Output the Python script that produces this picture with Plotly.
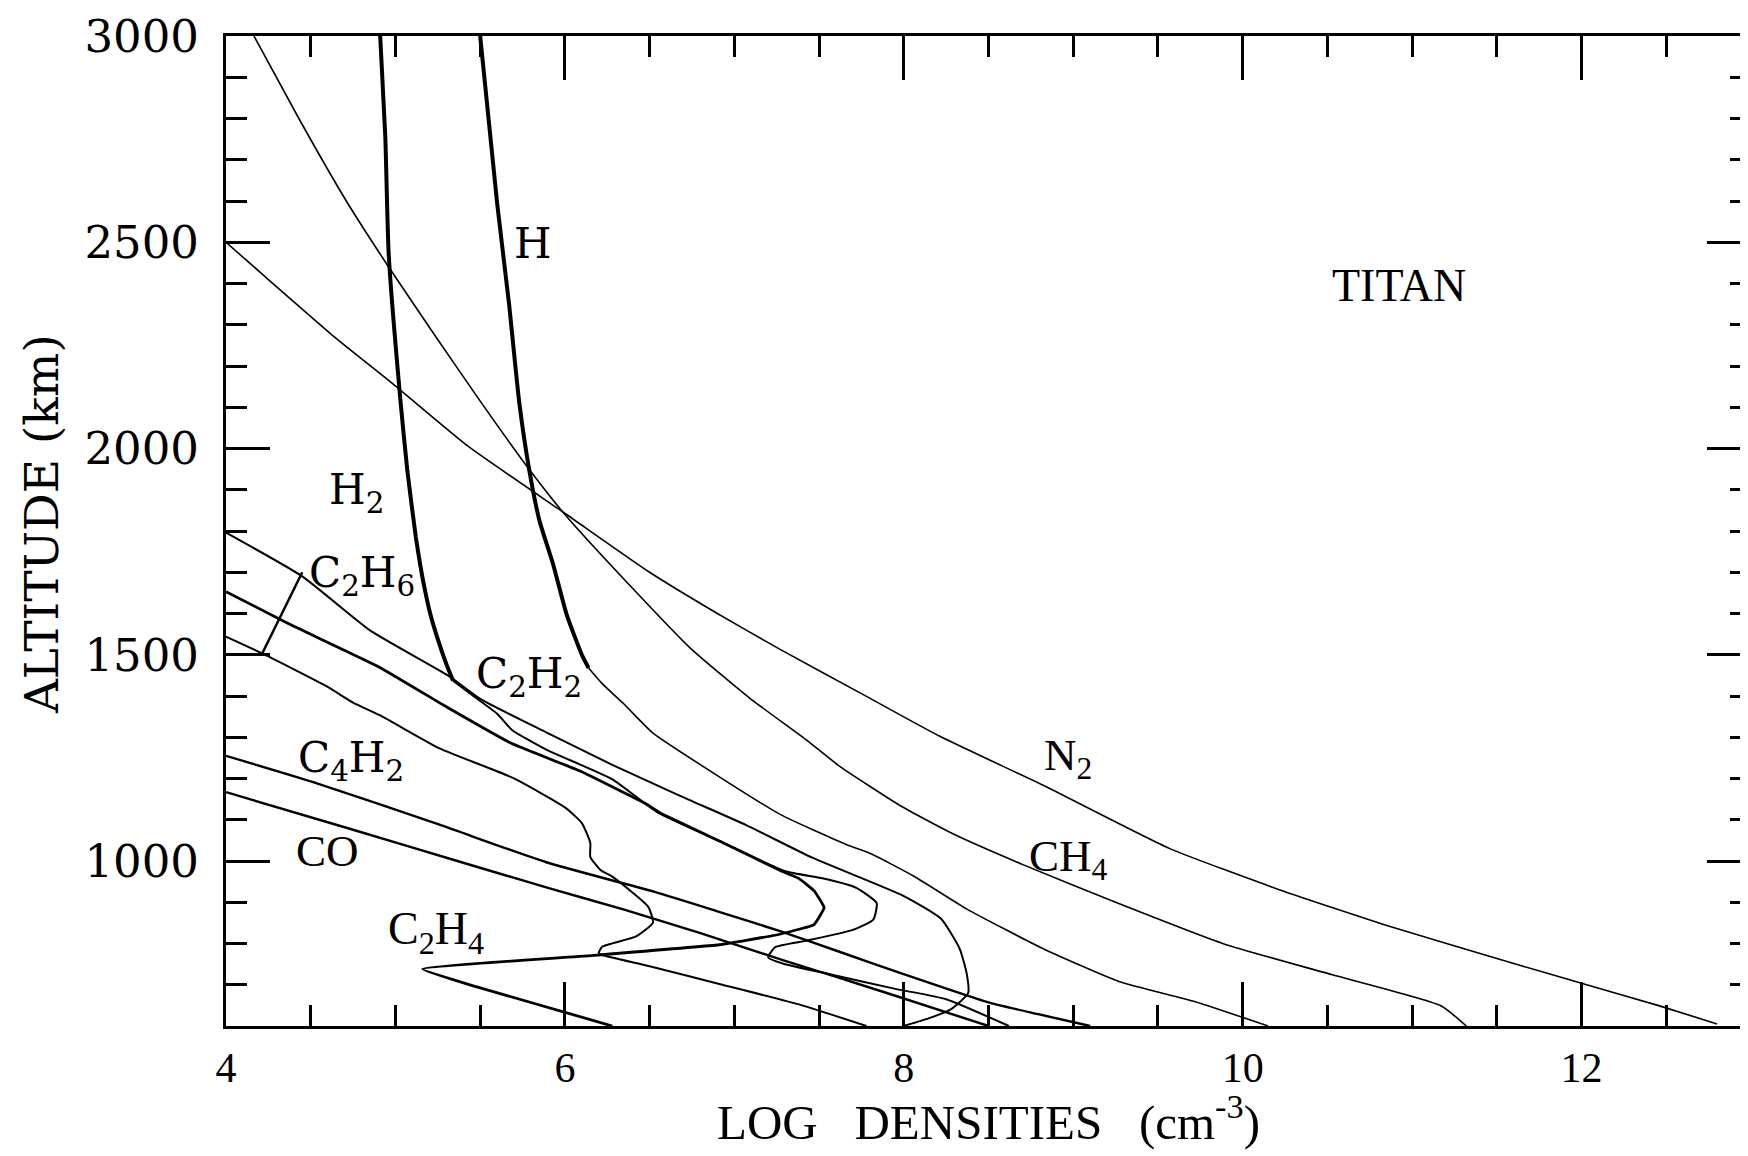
import plotly.graph_objects as go

# ---- data: log10 density (cm^-3) vs altitude (km) ----
N2_alt = [605, 650, 700, 760, 840, 930, 1030, 1180, 1303, 1399, 1513, 1600, 1700, 1840, 2005, 2155, 2267, 2419, 2500]
N2_x   = [12.8, 12.45, 12.03, 11.53, 10.88, 10.22, 9.57, 8.84, 8.21, 7.78, 7.27, 6.90, 6.50, 6.01, 5.43, 4.99, 4.65, 4.224, 4.0]

CH4_alt = [600, 649, 724, 799, 900, 990, 1066, 1134, 1230, 1292, 1395, 1516, 1652, 1840, 1960, 2121, 2285, 2440, 2600, 2800, 3000]
CH4_x   = [11.32, 11.17, 10.53, 9.89, 9.25, 8.71, 8.29, 7.98, 7.62, 7.43, 7.09, 6.74, 6.42, 6.0, 5.77, 5.49, 5.215, 4.96, 4.71, 4.43, 4.165]

H_top_alt = [1468, 1500, 1598, 1720, 1825, 1947, 2114, 2352, 2595, 3000]
H_top_x   = [6.14, 6.10, 6.01, 5.93, 5.85, 5.79, 5.73, 5.67, 5.60, 5.50]
H_low_alt = [600, 659, 708, 788, 884, 963, 1017, 1040, 1113, 1215, 1310, 1380, 1430, 1468]
H_low_x   = [10.15, 9.72, 9.27, 8.82, 8.37, 8.06, 7.81, 7.66, 7.27, 6.87, 6.52, 6.35, 6.22, 6.14]

H2_top_alt = [1437, 1478, 1544, 1600, 1665, 1721, 1786, 1947, 2114, 2473, 2757, 3000]
H2_top_x   = [5.34, 5.30, 5.245, 5.205, 5.17, 5.145, 5.12, 5.07, 5.03, 4.96, 4.94, 4.91]
H2_low_alt = [600, 665, 690, 725, 751, 766, 791, 807, 833, 858, 898, 935, 958, 975, 1045, 1117, 1198, 1270, 1317, 1357, 1412, 1437]
H2_low_x   = [8.62, 8.25, 7.95, 7.57, 7.29, 7.20, 7.24, 7.43, 7.70, 7.82, 7.84, 7.72, 7.52, 7.30, 6.93, 6.55, 6.28, 5.89, 5.69, 5.60, 5.42, 5.34]

C2H2_alt = [600, 619, 641, 680, 730, 787, 860, 915, 1008, 1087, 1158, 1233, 1312, 1393, 1447, 1559, 1690, 1796]
C2H2_x   = [8.0, 8.15, 8.28, 8.38, 8.37, 8.33, 8.22, 8.0, 7.46, 7.07, 6.68, 6.28, 5.89, 5.50, 5.32, 4.85, 4.45, 4.0]

C2H6_alt = [600, 650, 699, 745, 772, 777, 792, 817, 851, 890, 962, 978, 1010, 1044, 1092, 1130, 1202, 1273, 1353, 1384, 1422, 1502, 1544]
C2H6_x   = [7.78, 7.40, 6.94, 6.50, 6.22, 6.20, 6.22, 6.42, 6.52, 6.49, 6.28, 6.21, 6.15, 6.15, 6.10, 6.00, 5.69, 5.26, 4.91, 4.75, 4.60, 4.22, 4.0]

C2H4_alt = [600, 696, 738, 772, 797, 820, 846, 887, 928, 958, 975, 1045, 1117, 1138, 1218, 1284, 1374, 1471, 1575, 1653]
C2H4_x   = [6.28, 5.47, 5.16, 6.19, 6.91, 7.24, 7.47, 7.53, 7.47, 7.38, 7.28, 6.93, 6.56, 6.48, 6.09, 5.69, 5.30, 4.90, 4.37, 4.0]

C4H2_alt = [600, 628, 656, 727, 780, 830, 878, 925, 997, 1088, 1192, 1255]
C4H2_x   = [9.10, 8.80, 8.51, 7.99, 7.62, 7.27, 6.90, 6.53, 5.89, 5.26, 4.51, 4.0]

CO_alt = [600, 680, 758, 825, 882, 936, 997, 1077, 1167]
CO_x   = [8.50, 7.90, 7.30, 6.80, 6.35, 5.89, 5.39, 4.74, 4.0]

x_tick_vals = [4, 6, 8, 10, 12]
y_tick_vals = [1000, 1500, 2000, 2500, 3000]

K = "black"
fig = go.Figure()

def add(x, y, w, smooth=0.5):
    fig.add_trace(go.Scatter(x=x, y=y, mode="lines",
                             line=dict(color=K, width=w, shape="spline", smoothing=smooth),
                             showlegend=False, hoverinfo="skip"))

add(N2_x, N2_alt, 1.6)
add(CH4_x, CH4_alt, 1.6)
add(H_top_x, H_top_alt, 4)
add(H_low_x, H_low_alt, 1.6)
add(H2_top_x, H2_top_alt, 4)
add(H2_low_x, H2_low_alt, 2.0)
add(C2H2_x, C2H2_alt, 2.0)
add(C2H6_x, C2H6_alt, 2.0)
add(C2H4_x, C2H4_alt, 2.8, 0.3)
add(C4H2_x, C4H2_alt, 2.4)
add(CO_x, CO_alt, 2.4)

# leader line for the C2H6 label
fig.add_shape(type="line", x0=4.21, y0=1500, x1=4.45, y1=1700, line=dict(color=K, width=2.5))

SERIF_W = "DejaVu Serif"
SERIF_N = "Liberation Serif"
labels = [
    ("H", 5.81, 2499, SERIF_W, 43),
    ("H<sub>2</sub>", 4.77, 1894, SERIF_W, 42),
    ("C<sub>2</sub>H<sub>6</sub>", 4.80, 1691, SERIF_W, 42),
    ("C<sub>2</sub>H<sub>2</sub>", 5.79, 1447, SERIF_W, 42),
    ("C<sub>4</sub>H<sub>2</sub>", 4.74, 1244, SERIF_W, 42),
    ("CO", 4.60, 1025, SERIF_N, 45),
    ("C<sub>2</sub>H<sub>4</sub>", 5.24, 827, SERIF_N, 46),
    ("N<sub>2</sub>", 8.97, 1250, SERIF_N, 45),
    ("CH<sub>4</sub>", 8.97, 1006, SERIF_N, 45),
    ("TITAN", 10.92, 2395, SERIF_N, 46),
]
for t, x, y, f, s in labels:
    fig.add_annotation(x=x, y=y, text=t, showarrow=False, xanchor="center", yanchor="middle",
                       font=dict(family=f, size=s, color=K))

NB = "\u00a0"
fig.add_annotation(xref="paper", yref="paper", x=0.5, y=-0.093,
                   text="LOG" + NB * 3 + "DENSITIES" + NB * 3 + "(cm<sup>-3</sup>)",
                   showarrow=False, xanchor="center", yanchor="middle",
                   font=dict(family=SERIF_N, size=49, color=K))
fig.add_annotation(xref="paper", yref="paper", x=-0.1213, y=0.507, text="ALTITUDE" + NB + "(km)",
                   textangle=-90, showarrow=False, xanchor="center", yanchor="middle",
                   font=dict(family=SERIF_W, size=47, color=K))

fig.update_xaxes(range=[4, 13], tickvals=x_tick_vals, ticktext=[str(v) for v in x_tick_vals],
                 ticks="inside", ticklen=44, tickwidth=2.5, tickcolor=K,
                 minor=dict(dtick=0.5, tick0=4, ticks="inside", ticklen=21, tickwidth=2.5, tickcolor=K),
                 showline=True, linewidth=3, linecolor=K, mirror="allticks", showgrid=False, zeroline=False,
                 tickfont=dict(family=SERIF_N, size=42, color=K), ticklabelstandoff=3, automargin=False)
fig.update_yaxes(range=[600, 3000], tickvals=y_tick_vals, ticktext=[str(v) for v in y_tick_vals],
                 ticks="inside", ticklen=44, tickwidth=2.5, tickcolor=K,
                 minor=dict(dtick=100, tick0=600, ticks="inside", ticklen=21, tickwidth=2.5, tickcolor=K),
                 showline=True, linewidth=3, linecolor=K, mirror="allticks", showgrid=False, zeroline=False,
                 tickfont=dict(family=SERIF_W, size=45, color=K), ticklabelstandoff=15, automargin=False)

# the page body adds an 8 px offset; margins compensate for it
fig.update_layout(width=1748, height=1156, margin=dict(l=218, r=5, t=28, b=138),
                  plot_bgcolor="white", paper_bgcolor="white")

fig.write_html("out.html")
